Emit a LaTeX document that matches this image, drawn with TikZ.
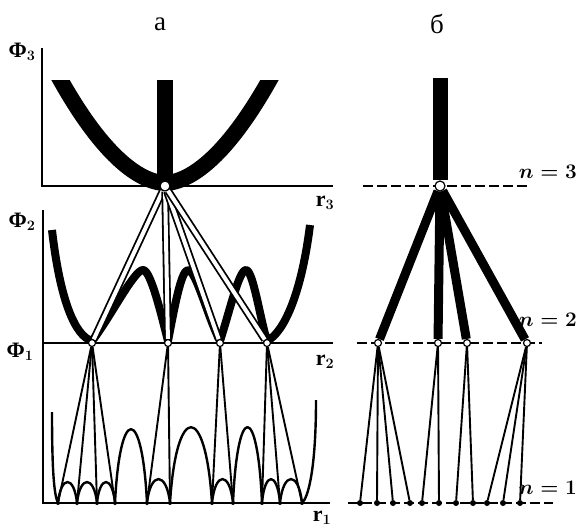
\documentclass[tikz,border=0pt]{standalone}
\usepackage{fontspec}
\setmainfont{Liberation Serif}
\usetikzlibrary{calc}

\tikzset{
  axisline/.style={line width=2.2pt},
  band/.style={line width=16pt},
  ridge/.style={line width=8pt, line join=round},
  wave/.style={line width=2.4pt, line join=round},
  tube/.style={double=white, double distance=4pt, line width=1.8pt},
  wire/.style={line width=1.9pt},
  limb/.style={line width=9pt},
  shelf/.style={line width=1.8pt, dash pattern=on 10pt off 4pt},
  hub/.style={circle, draw, fill=white, line width=1.2pt, inner sep=0pt, minimum size=10pt},
  knot/.style={circle, draw, fill=white, line width=1.2pt, inner sep=0pt, minimum size=7pt},
  speck/.style={circle, fill, inner sep=0pt, minimum size=6pt},
  lbl/.style={font=\fontsize{22}{26}\selectfont\bfseries\boldmath},
  lvl/.style={font=\fontsize{20}{24}\selectfont\boldmath, anchor=east, inner sep=1pt},
  ttl/.style={font=\fontsize{27}{32}\selectfont}
}

\begin{document}
\begin{tikzpicture}[x=1pt, y=-1pt]
\useasboundingbox (0,0) rectangle (579,528);

% titles
\node[ttl] (ta) at (160,24) {а};
\node[ttl] (tb) at (437,24) {б};

% axes of panel a
\draw[axisline] (42,48) -- (42,186) -- (333,186);
\draw[axisline] (43,210) -- (43,503) -- (330,503);
\draw[axisline] (43,343) -- (333,343);

\node[lbl] (f3) at (22,52) {Φ$_3$};
\node[lbl] (f2) at (22,222) {Φ$_2$};
\node[lbl] (f1) at (20,352) {Φ$_1$};
\node[lbl] (r3) at (325,203) {r$_3$};
\node[lbl] (r2) at (325,362) {r$_2$};
\node[lbl] (r1) at (322,518) {r$_1$};

% upper well
\begin{scope}
  \clip (0,80) rectangle (579,528);
  \draw[band] plot[domain=-114:114, samples=80] ({165+\x},{183-0.0239*(\x*\x)^0.9});
\end{scope}

% middle curve
\draw[ridge] (52,230) .. controls (60,300) and (75,336) .. (92,341)
  .. controls (110,318) and (134,270) .. (143,270)
  .. controls (151,270) and (162,318) .. (168,341)
  .. controls (174,310) and (181,270) .. (188,270)
  .. controls (196,270) and (208,318) .. (220,341)
  .. controls (230,310) and (239,270) .. (246,270)
  .. controls (253,270) and (260,318) .. (267,341)
  .. controls (285,332) and (302,290) .. (310,225);

% lower curve
\draw[wave] (52,412) .. controls (52,470) and (54,495) .. (58,503)
  \foreach \a/\b/\h in {58/77/21, 77/97/21, 97/115/21, 115/147/74, 147/170/24,
                        170/212/76, 212/233/24, 233/262/76, 262/280/24, 280/302/24} {
    .. controls ({\a+0.15*(\b-\a)},{503-1.33*\h}) and ({\b-0.15*(\b-\a)},{503-1.33*\h}) .. (\b,503)
  }
  .. controls (308,498) and (316,470) .. (316,400);

% panel b levels
\draw[shelf] (363,186) -- (527,186);
\draw[shelf] (357,343) -- (542,343);
\draw[shelf] (348,503) -- (553,503);
\node[lvl] (n3) at (578,172) {$n=3$};
\node[lvl] (n2) at (578,320) {$n=2$};
\node[lvl] (n1) at (578,488) {$n=1$};

% states
\node[hub] (a3) at (165,186) {};
\node[hub] (b3) at (440,186) {};
\foreach \x [count=\i] in {92,168,220,267}
  \node[knot] (k\i) at (\x,343) {};
\foreach \x [count=\i] in {378,438,467,527}
  \node[knot] (m\i) at (\x,343) {};
\foreach \x [count=\i] in {58,77,97,115,147,170,212,233,262,280,302}
  \node[speck, minimum size=4pt] (w\i) at (\x,503) {};
\foreach \x [count=\i] in {360,377,393,410,422,439,456,473,487,503,520}
  \node[speck] (d\i) at (\x,503) {};

% splitting
\draw[band] (165,80) -- (a3);
\draw[band, line width=15pt] (440,78) -- (b3);
\foreach \i in {1,...,4} {
  \draw[tube] (a3) -- (k\i);
  \draw[limb] (b3) -- (m\i);
}
\foreach \k/\w in {1/1,1/2,1/3,1/4,2/5,2/6,3/7,3/8,4/9,4/10,4/11} {
  \draw[wire] (k\k) -- (w\w);
  \draw[wire] (m\k) -- (d\w);
}

\end{tikzpicture}
\end{document}
